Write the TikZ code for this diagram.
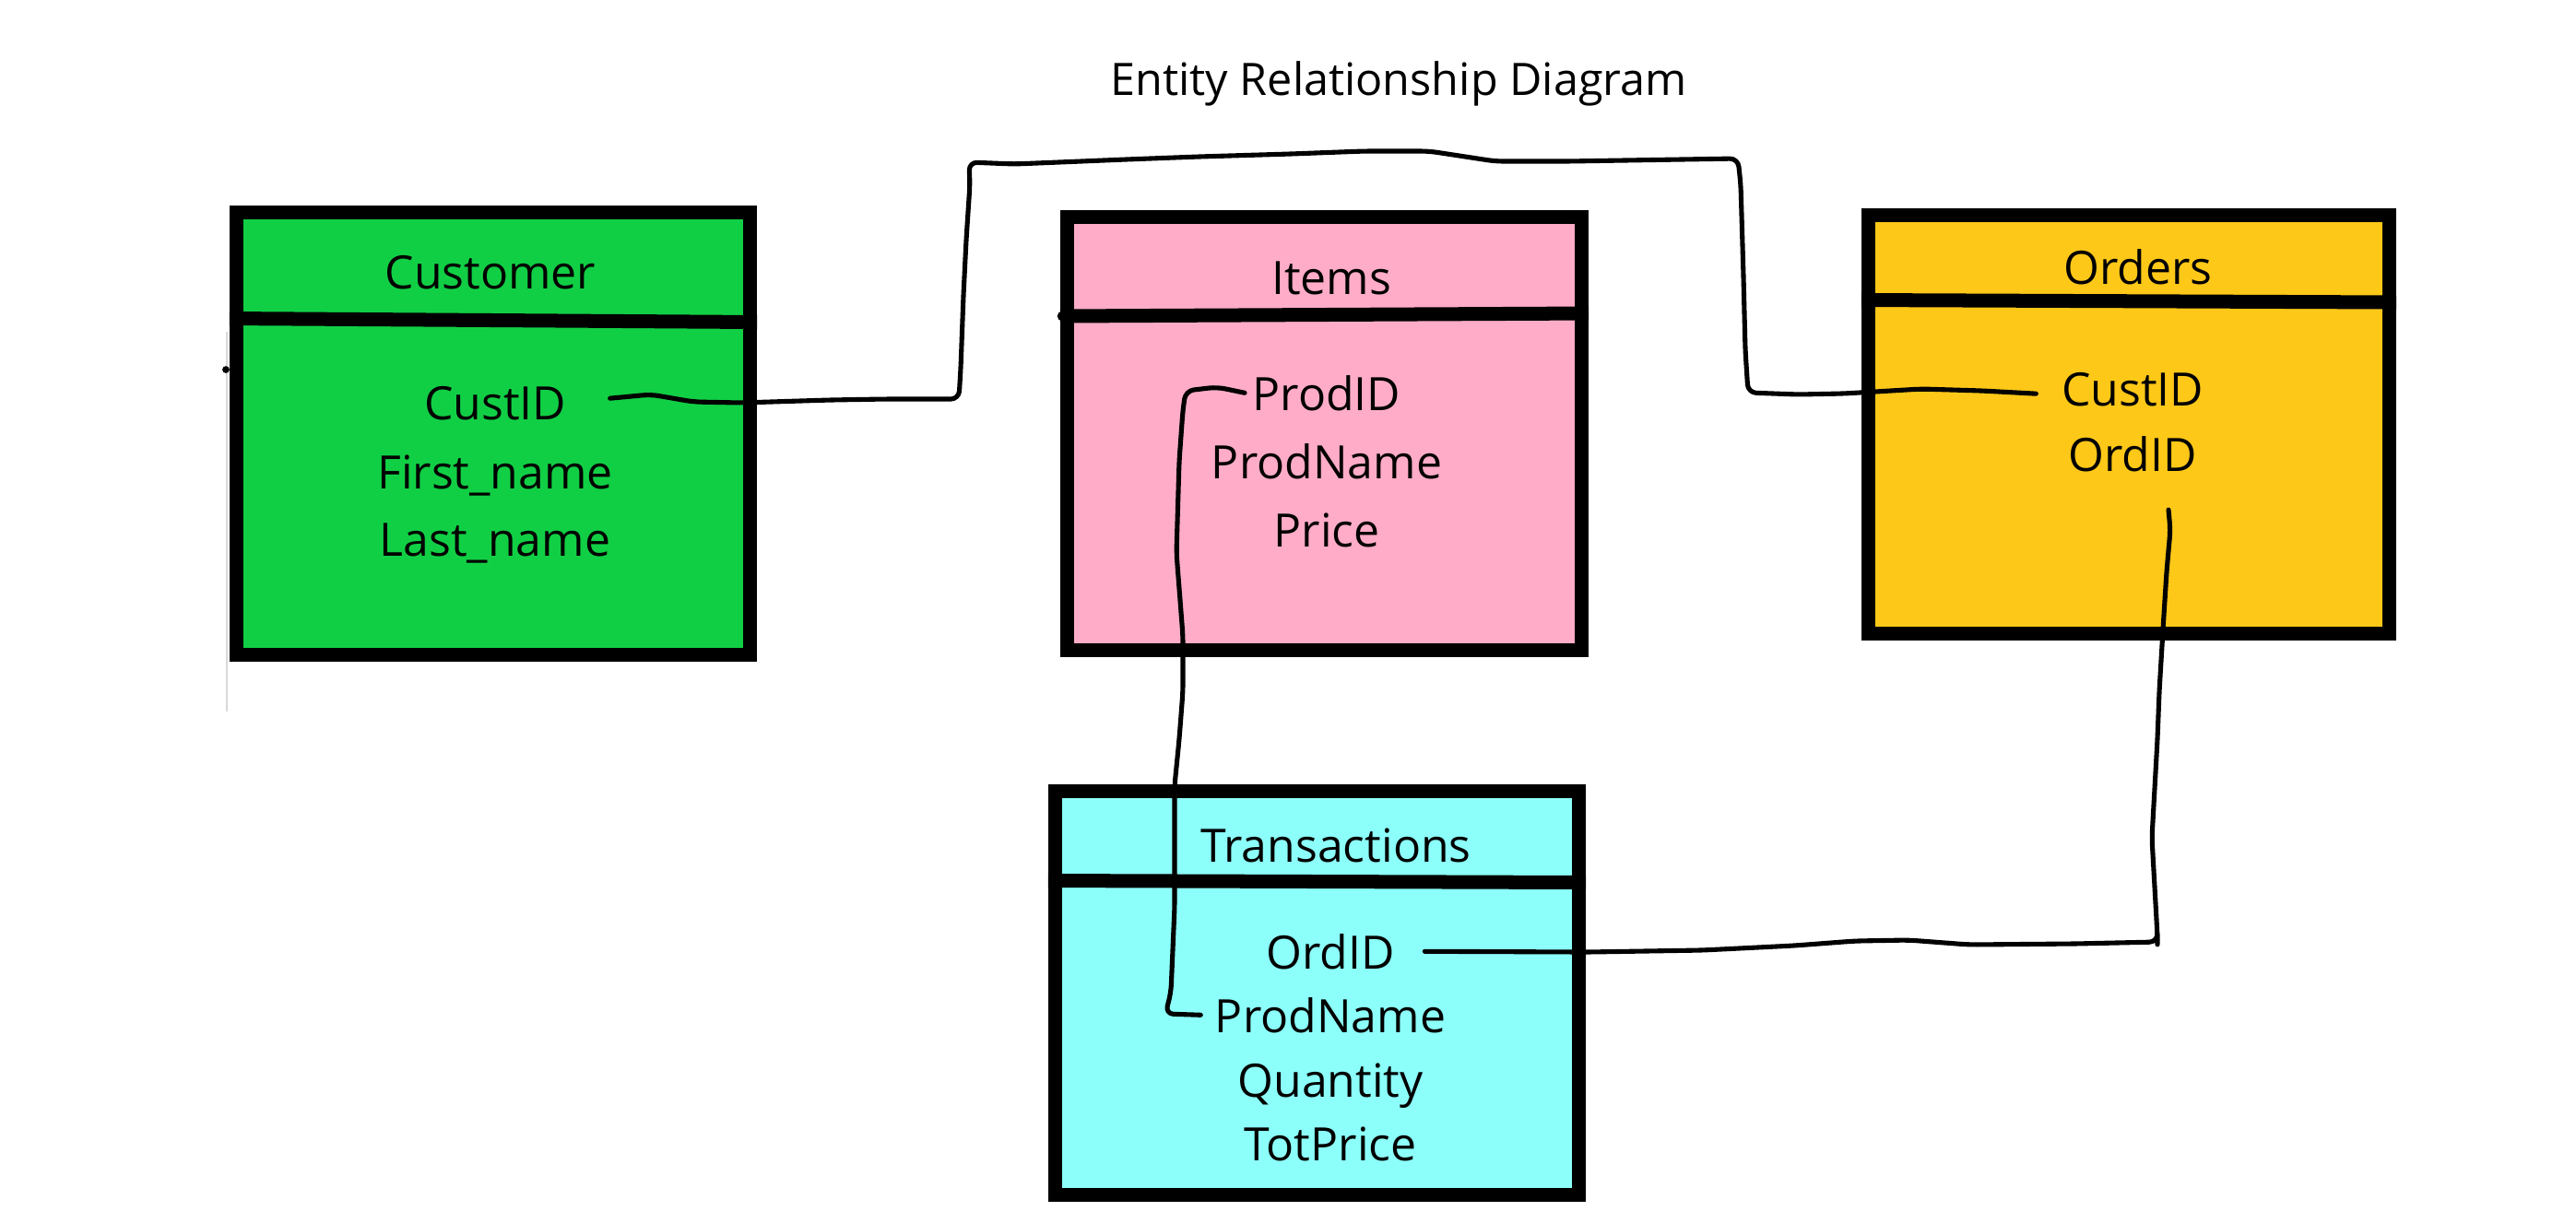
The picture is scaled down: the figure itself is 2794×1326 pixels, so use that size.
\documentclass[tikz,border=0pt]{standalone}
\usepackage{fontspec}
\setmainfont{Open Sans}
\usetikzlibrary{calc}
\definecolor{custgreen}{HTML}{11CF45}
\definecolor{itempink}{HTML}{FFACC8}
\definecolor{ordyellow}{HTML}{FEC818}
\definecolor{transcyan}{HTML}{8CFFFA}
\tikzset{
  entity/.style={draw=black, line width=4.27pt, rectangle, inner sep=0pt},
  divider/.style={line width=4.27pt, line cap=butt},
  field/.style={inner sep=0pt, anchor=base, font=\fontsize{14.2}{17}\selectfont},
  header/.style={field},
  titletext/.style={inner sep=0pt, anchor=base, font=\fontsize{13.8}{16}\selectfont},
  link/.style={line width=1.45pt, line cap=round, line join=round, rounded corners=2.5pt},
}
\begin{document}
\begin{tikzpicture}[x=0.01cm,y=-0.01cm]
\useasboundingbox[fill=white] (0,0) rectangle (2794,1326);

% faint artifacts
\draw[gray!30, line width=0.4pt] (246,360) -- (246,772);
\fill (245,401) circle[radius=1.1pt];

% title
\node[titletext] (title) at (1517,103) {Entity Relationship Diagram};

% Customer
\node[entity, fill=custgreen, minimum width=5.57cm, minimum height=4.80cm] (cust) at (535,470.5) {};
\draw[divider] (cust.west |- 0,345.5) -- (cust.east |- 0,349.5);
\node[header] (custH) at (532,313) {Customer};
\node[field] (custA) at (537,455) {CustID};
\node[field] (custB) at (537,530) {First\_name};
\node[field] (custC) at (537,603) {Last\_name};

% Items
\node[entity, fill=itempink, minimum width=5.58cm, minimum height=4.70cm] (item) at (1436.5,470.5) {};
\draw[divider] (item.west |- 0,343) -- (item.east |- 0,340);
\fill (1152,343) circle[radius=1.5pt];
\node[header] (itemH) at (1444,319) {Items};
\node[field] (itemA) at (1439,445) {ProdID};
\node[field] (itemB) at (1439,519) {ProdName};
\node[field] (itemC) at (1439,593) {Price};

% Orders
\node[entity, fill=ordyellow, minimum width=5.65cm, minimum height=4.54cm] (ord) at (2309,460.5) {};
\draw[divider] (ord.west |- 0,325.5) -- (ord.east |- 0,328);
\node[header] (ordH) at (2319,308) {Orders};
\node[field] (ordA) at (2313,440) {CustID};
\node[field] (ordB) at (2313,511) {OrdID};

% Transactions
\node[entity, fill=transcyan, minimum width=5.68cm, minimum height=4.38cm] (trans) at (1428.5,1077.5) {};
\draw[divider] (trans.west |- 0,955.5) -- (trans.east |- 0,957.5);
\node[header] (transH) at (1449,935) {Transactions};
\node[field] (transA) at (1443,1051) {OrdID};
\node[field] (transB) at (1443,1120) {ProdName};
\node[field] (transC) at (1443,1190) {Quantity};
\node[field] (transD) at (1443,1259) {TotPrice};

% Customer.CustID -- Orders.CustID
\draw[link] ($(custA.east)+(47,-5)$) -- (706,428) -- (752,436) -- (804,437) -- (900,434)
  -- (960,433) -- (1040,433) -- (1042,400) -- (1045,320) -- (1048,260) -- (1052,200)
  -- (1051,176) -- (1100,178) -- (1221,173) -- (1300,170) -- (1400,167) -- (1479,164)
  -- (1550,164) -- (1622,175) -- (1700,175) -- (1885,172) -- (1888,200) -- (1891,300)
  -- (1893,380) -- (1896,426) -- (1950,428) -- (2000,427) -- (2084,422) -- (2150,424)
  -- ($(ordA.west)+(-27,5)$);

% Items.ProdID -- Transactions.ProdName
\draw[link] ($(itemA.west)+(-8,0)$) -- (1320,420) -- (1286,424) -- (1283,445) -- (1279,500)
  -- (1276,600) -- (1283,690) -- (1283,750) -- (1279,802) -- (1274,852) -- (1274,984)
  -- (1270,1077) -- (1264,1100) -- ($(transB.west)+(-15,0)$);

% Orders.OrdID -- Transactions.OrdID
\draw[link] ($(ordB.south)+(39,41)$) -- (2354,575) -- (2350,620) -- (2347,667) -- (2342,750)
  -- (2340,802) -- (2334,909) -- (2340,1016) -- (2340,1022) -- (2250,1024) -- (2136,1025)
  -- (2070,1020) -- (2012,1021) -- (1946,1026) -- (1846,1031) -- (1722,1033)
  -- ($(transA.east)+(32,0)$);
\end{tikzpicture}
\end{document}
